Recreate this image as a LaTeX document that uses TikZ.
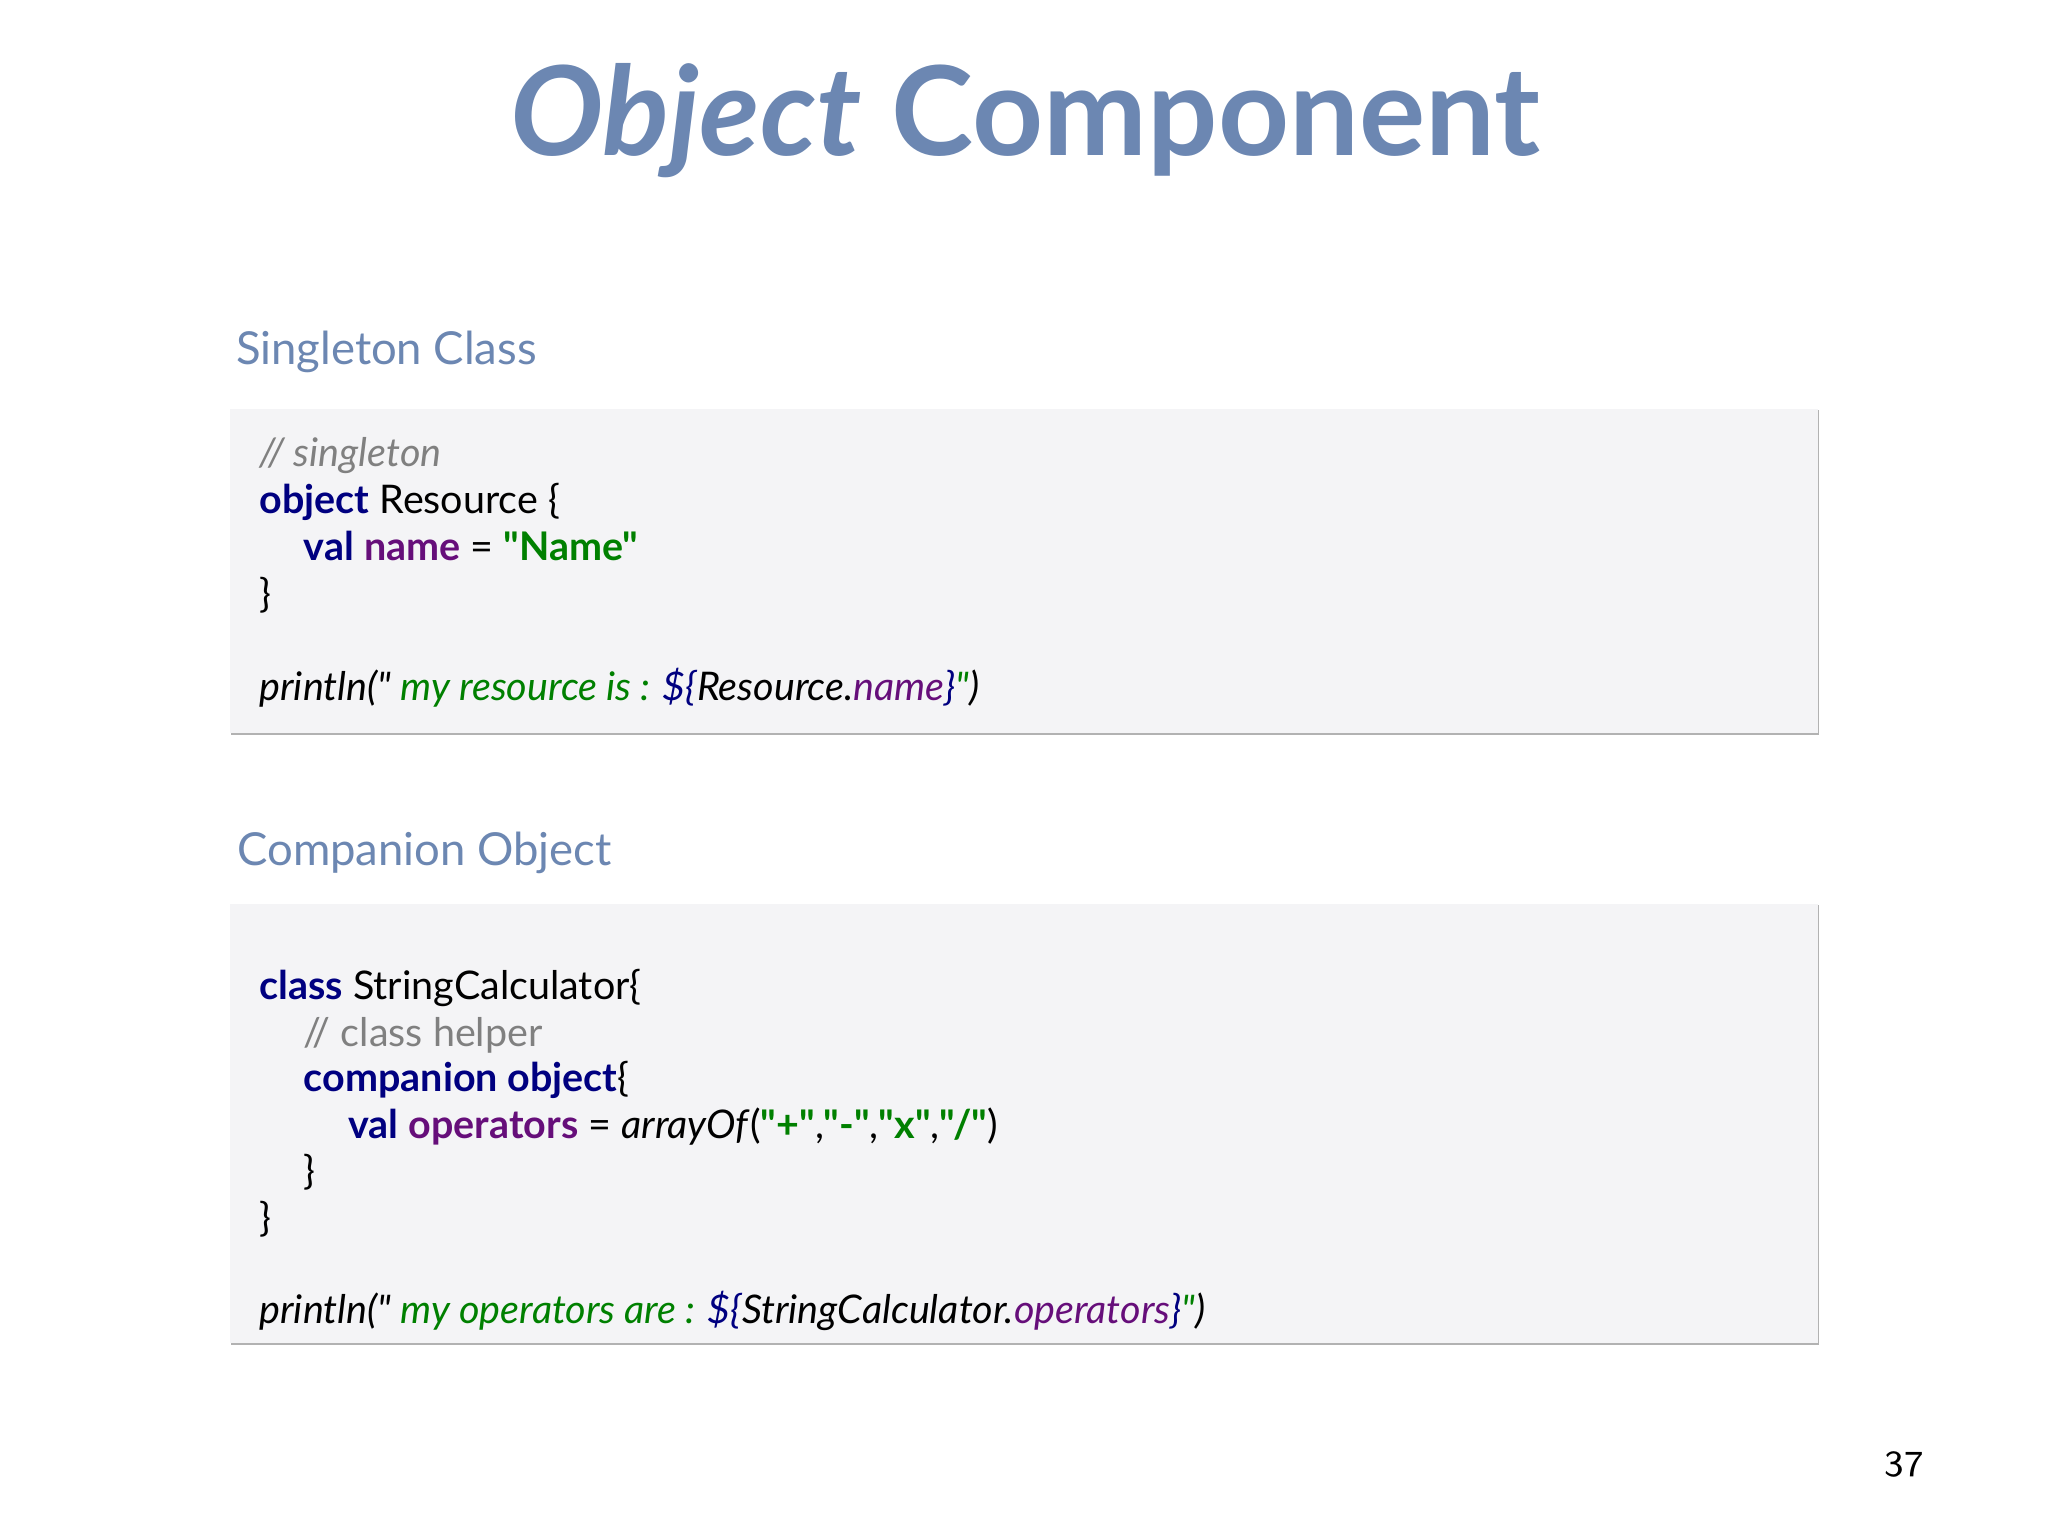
\documentclass[tikz,border=0pt]{standalone}
\usepackage{fontspec}
\setmainfont{Lato}[Ligatures=TeXOff]
\newcommand{\qq}{\symbol{34}}
\begin{document}
\begin{tikzpicture}[x=1cm,y=-1cm,
  code/.style={anchor=base west,inner sep=0pt,font=\fontsize{8.6pt}{10pt}\selectfont},
  box/.style={fill=boxfill,draw=none},
  hdr/.style={anchor=base west,inner sep=0pt,text=titleblue,font=\fontsize{9.9pt}{12pt}\selectfont}]
\definecolor{titleblue}{HTML}{6C87B2}
\definecolor{boxfill}{HTML}{F4F4F6}
\definecolor{kw}{HTML}{000080}
\definecolor{pu}{HTML}{660E7A}
\definecolor{gr}{HTML}{008000}
\definecolor{cm}{HTML}{808080}
\useasboundingbox[fill=white] (0,0) rectangle (15.68,11.76);
\node[inner sep=0pt,text=titleblue,font=\fontsize{27pt}{30pt}\selectfont\bfseries] (title) at (7.85,0.92) {\textit{Object} Component};
\node[hdr] (h1) at (1.80,2.79) {Singleton Class};
\node[hdr] (h2) at (1.81,6.63) {Companion Object};
% box 1
\fill[black!30] (1.77,3.14) rectangle (13.93,5.63);
\node[box,minimum width=12.16cm,minimum height=2.48cm,inner sep=0pt] (b1) at (7.84,4.37) {};
\node[code,text=cm] (l1) at (1.98,3.57) {\textit{// singleton}};
\node[code] (l2) at (1.98,3.93) {\textcolor{kw}{\bfseries object} Resource \{};
\node[code] (l3) at (2.32,4.29) {\textcolor{kw}{\bfseries val} \textcolor{pu}{\bfseries name} = \textcolor{gr}{\bfseries \qq Name\qq}};
\node[code] (l4) at (1.98,4.65) {\}};
\node[code] (l5) at (1.98,5.36) {\itshape println(\qq{} \textcolor{gr}{my resource is :} \textcolor{kw}{\$\{}Resource.\textcolor{pu}{name}\textcolor{kw}{\}}\textcolor{gr}{\qq})};
% box 2
\fill[black!30] (1.77,6.93) rectangle (13.93,10.30);
\node[box,minimum width=12.16cm,minimum height=3.36cm,inner sep=0pt] (b2) at (7.84,8.60) {};
\node[code] (m1) at (1.98,7.65) {\textcolor{kw}{\bfseries class} StringCalculator\{};
\node[code,text=cm] (m2) at (2.32,8.01) {// class helper};
\node[code] (m3) at (2.32,8.36) {\textcolor{kw}{\bfseries companion object}\{};
\node[code] (m4) at (2.66,8.72) {\textcolor{kw}{\bfseries val} \textcolor{pu}{\bfseries operators} = \textit{arrayOf}(\textcolor{gr}{\bfseries \qq+\qq},\textcolor{gr}{\bfseries \qq-\qq},\textcolor{gr}{\bfseries \qq x\qq},\textcolor{gr}{\bfseries \qq/\qq})};
\node[code] (m5) at (2.32,9.07) {\}};
\node[code] (m6) at (1.98,9.43) {\}};
\node[code] (m7) at (1.98,10.13) {\itshape println(\qq{} \textcolor{gr}{my operators are :} \textcolor{kw}{\$\{}StringCalculator.\textcolor{pu}{operators}\textcolor{kw}{\}}\textcolor{gr}{\qq})};
\node[inner sep=0pt,font=\fontsize{8pt}{9pt}\selectfont\sffamily] (pg) at (14.58,11.21) {37};
\end{tikzpicture}
\end{document}
